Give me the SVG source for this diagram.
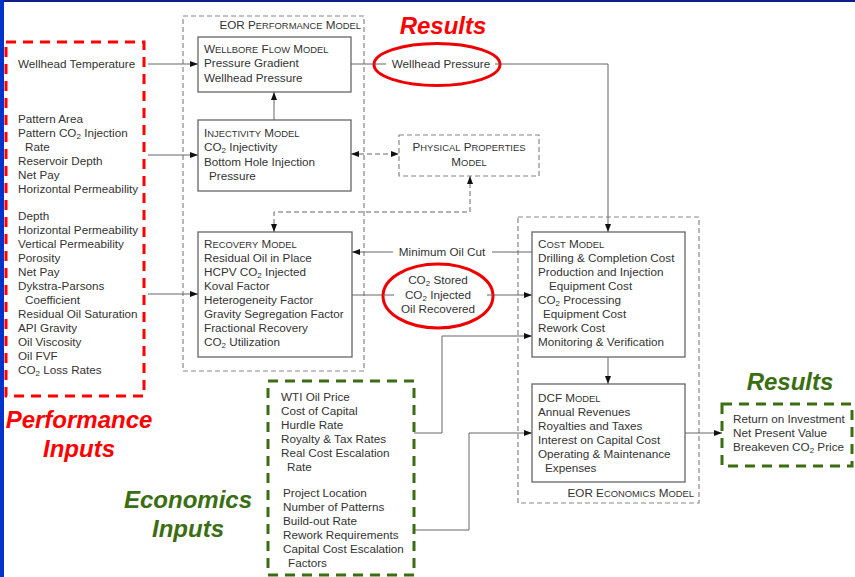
<svg xmlns="http://www.w3.org/2000/svg" width="855" height="577" viewBox="0 0 855 577">
<style>
.t{font-family:"Liberation Sans",Arial,sans-serif;font-size:11.7px;fill:#333}
.k{font-size:9.4px}
.s{font-size:8px}
.box{fill:#fff;stroke:#666;stroke-width:1.3}
.dbox{fill:none;stroke:#888;stroke-width:1.2;stroke-dasharray:5 3}
.pbox{fill:#fff;stroke:#888;stroke-width:1.2;stroke-dasharray:5 3}
.c{fill:none;stroke:#666;stroke-width:1}
.dc{fill:none;stroke:#666;stroke-width:1;stroke-dasharray:5 3}
.red{fill:none;stroke:#f00;stroke-width:3;stroke-dasharray:10 7}
.grn{fill:none;stroke:#3b6e12;stroke-width:3;stroke-dasharray:10 7}
.ell{fill:#fff;stroke:#e00;stroke-width:3}
.big{font-family:"Liberation Sans",Arial,sans-serif;font-weight:bold;font-style:italic;font-size:24px;text-anchor:middle}
</style>
<defs>
<marker id="ar" markerUnits="userSpaceOnUse" markerWidth="8" markerHeight="6" refX="8" refY="3" orient="auto-start-reverse"><path d="M0,0 L8,3 L0,6 z" fill="#111"/></marker>
</defs>
<rect x="0" y="0" width="855" height="577" fill="#fff"/>
<rect x="0" y="0" width="855" height="2" fill="#0c1f8a"/>
<rect x="0" y="0" width="4" height="577" fill="#0033cc"/>

<g id="eor-performance-model">
<rect class="dbox" x="183" y="16" width="181" height="355"/>
<text class="t" x="361" y="29" text-anchor="end">EOR P<tspan class="k">ERFORMANCE</tspan> M<tspan class="k">ODEL</tspan></text>
</g>
<g id="eor-economics-model">
<rect class="dbox" x="518" y="217" width="181" height="286"/>
<text class="t" x="694" y="497" text-anchor="end">EOR E<tspan class="k">CONOMICS</tspan> M<tspan class="k">ODEL</tspan></text>
</g>

<g id="connectors">
<line class="c" x1="148" y1="64" x2="198" y2="64" marker-end="url(#ar)"/>
<line class="c" x1="148" y1="155" x2="198" y2="155" marker-end="url(#ar)"/>
<line class="c" x1="148" y1="294" x2="198" y2="294" marker-end="url(#ar)"/>
<line class="c" x1="274" y1="120" x2="274" y2="92" marker-end="url(#ar)"/>
<line class="c" x1="351" y1="64" x2="386" y2="64"/>
<polyline class="c" points="495,64 608,64 608,232" marker-end="url(#ar)"/>
<line class="dc" x1="351" y1="154" x2="399" y2="154" marker-start="url(#ar)" marker-end="url(#ar)"/>
<polyline class="dc" points="274,232 274,212 470,212 470,176" marker-start="url(#ar)" marker-end="url(#ar)"/>
<line class="c" x1="532" y1="252" x2="492" y2="252"/>
<line class="c" x1="393" y1="252" x2="352" y2="252" marker-end="url(#ar)"/>
<line class="c" x1="352" y1="295" x2="394" y2="295"/>
<line class="c" x1="487" y1="295" x2="532" y2="295" marker-end="url(#ar)"/>
<line class="c" x1="608" y1="357" x2="608" y2="384" marker-end="url(#ar)"/>
<line class="c" x1="685" y1="433" x2="722" y2="433" marker-end="url(#ar)"/>
<polyline class="c" points="414,433 442,433 442,336 532,336" marker-end="url(#ar)"/>
<polyline class="c" points="414,530 469,530 469,433 532,433" marker-end="url(#ar)"/>
</g>

<g id="performance-inputs">
<rect class="red" x="6" y="42" width="138" height="354"/>
<text class="t" x="18" y="68">Wellhead Temperature</text>
<text class="t" x="18" y="123">Pattern Area</text>
<text class="t" x="18" y="137">Pattern CO<tspan class="s" dy="2">2</tspan><tspan dy="-2"> Injection</tspan></text>
<text class="t" x="25" y="151">Rate</text>
<text class="t" x="18" y="165">Reservoir Depth</text>
<text class="t" x="18" y="179">Net Pay</text>
<text class="t" x="18" y="193">Horizontal Permeability</text>
<text class="t" x="18" y="220">Depth</text>
<text class="t" x="18" y="234">Horizontal Permeability</text>
<text class="t" x="18" y="248">Vertical Permeability</text>
<text class="t" x="18" y="262">Porosity</text>
<text class="t" x="18" y="276">Net Pay</text>
<text class="t" x="18" y="290">Dykstra-Parsons</text>
<text class="t" x="25" y="304">Coefficient</text>
<text class="t" x="18" y="318">Residual Oil Saturation</text>
<text class="t" x="18" y="332">API Gravity</text>
<text class="t" x="18" y="346">Oil Viscosity</text>
<text class="t" x="18" y="360">Oil FVF</text>
<text class="t" x="18" y="374">CO<tspan class="s" dy="2">2</tspan><tspan dy="-2"> Loss Rates</tspan></text>
<text class="big" x="79" y="428" fill="#f00">Performance</text>
<text class="big" x="79" y="457" fill="#f00">Inputs</text>
</g>

<g id="wellbore-flow-model">
<rect class="box" x="198" y="37" width="153" height="55"/>
<text class="t" x="204" y="53">W<tspan class="k">ELLBORE</tspan> F<tspan class="k">LOW</tspan> M<tspan class="k">ODEL</tspan></text>
<text class="t" x="204" y="67">Pressure Gradient</text>
<text class="t" x="204" y="82">Wellhead Pressure</text>
</g>

<g id="injectivity-model">
<rect class="box" x="198" y="120" width="153" height="71"/>
<text class="t" x="204" y="137">I<tspan class="k">NJECTIVITY</tspan> M<tspan class="k">ODEL</tspan></text>
<text class="t" x="204" y="151">CO<tspan class="s" dy="2">2</tspan><tspan dy="-2"> Injectivity</tspan></text>
<text class="t" x="204" y="166">Bottom Hole Injection</text>
<text class="t" x="209" y="180">Pressure</text>
</g>

<g id="recovery-model">
<rect class="box" x="198" y="232" width="154" height="125"/>
<text class="t" x="204" y="248">R<tspan class="k">ECOVERY</tspan> M<tspan class="k">ODEL</tspan></text>
<text class="t" x="204" y="262">Residual Oil in Place</text>
<text class="t" x="204" y="276">HCPV CO<tspan class="s" dy="2">2</tspan><tspan dy="-2"> Injected</tspan></text>
<text class="t" x="204" y="290">Koval Factor</text>
<text class="t" x="204" y="304">Heterogeneity Factor</text>
<text class="t" x="204" y="318">Gravity Segregation Factor</text>
<text class="t" x="204" y="332">Fractional Recovery</text>
<text class="t" x="204" y="346">CO<tspan class="s" dy="2">2</tspan><tspan dy="-2"> Utilization</tspan></text>
</g>

<g id="physical-properties-model">
<rect class="pbox" x="399" y="135" width="140" height="41"/>
<text class="t" x="469" y="151" text-anchor="middle">P<tspan class="k">HYSICAL</tspan> P<tspan class="k">ROPERTIES</tspan></text>
<text class="t" x="469" y="166" text-anchor="middle">M<tspan class="k">ODEL</tspan></text>
</g>

<g id="results-wellhead-pressure">
<text class="big" x="443" y="34" fill="#f00">Results</text>
<ellipse class="ell" cx="437" cy="64.5" rx="63" ry="21"/>
<line class="c" x1="374" y1="64" x2="386" y2="64"/>
<line class="c" x1="495" y1="64" x2="500" y2="64"/>
<text class="t" x="441" y="68" text-anchor="middle">Wellhead Pressure</text>
</g>

<g id="minimum-oil-cut">
<text class="t" x="442" y="256" text-anchor="middle">Minimum Oil Cut</text>
</g>

<g id="results-co2">
<ellipse class="ell" cx="438" cy="296" rx="55" ry="32"/>
<line class="c" x1="383" y1="295" x2="394" y2="295"/>
<line class="c" x1="487" y1="295" x2="493" y2="295"/>
<text class="t" x="438" y="284" text-anchor="middle">CO<tspan class="s" dy="2">2</tspan><tspan dy="-2"> Stored</tspan></text>
<text class="t" x="438" y="299" text-anchor="middle">CO<tspan class="s" dy="2">2</tspan><tspan dy="-2"> Injected</tspan></text>
<text class="t" x="438" y="313" text-anchor="middle">Oil Recovered</text>
</g>

<g id="cost-model">
<rect class="box" x="532" y="232" width="153" height="125"/>
<text class="t" x="538" y="248">C<tspan class="k">OST</tspan> M<tspan class="k">ODEL</tspan></text>
<text class="t" x="538" y="262">Drilling &amp; Completion Cost</text>
<text class="t" x="538" y="276">Production and Injection</text>
<text class="t" x="549" y="290">Equipment Cost</text>
<text class="t" x="538" y="304">CO<tspan class="s" dy="2">2</tspan><tspan dy="-2"> Processing</tspan></text>
<text class="t" x="543" y="318">Equipment Cost</text>
<text class="t" x="538" y="332">Rework Cost</text>
<text class="t" x="538" y="346">Monitoring &amp; Verification</text>
</g>

<g id="dcf-model">
<rect class="box" x="532" y="384" width="153" height="98"/>
<text class="t" x="538" y="402">DCF M<tspan class="k">ODEL</tspan></text>
<text class="t" x="538" y="416">Annual Revenues</text>
<text class="t" x="538" y="430">Royalties and Taxes</text>
<text class="t" x="538" y="444">Interest on Capital Cost</text>
<text class="t" x="538" y="458">Operating &amp; Maintenance</text>
<text class="t" x="545" y="472">Expenses</text>
</g>

<g id="economics-results">
<text class="big" x="790" y="390" fill="#3b6e12">Results</text>
<rect class="grn" x="722" y="404" width="130" height="62"/>
<text class="t" x="733" y="423">Return on Investment</text>
<text class="t" x="733" y="437">Net Present Value</text>
<text class="t" x="733" y="451">Breakeven CO<tspan class="s" dy="2">2</tspan><tspan dy="-2"> Price</tspan></text>
</g>

<g id="economics-inputs">
<rect class="grn" x="268" y="381" width="146" height="194"/>
<text class="t" x="281" y="401">WTI Oil Price</text>
<text class="t" x="281" y="415">Cost of Capital</text>
<text class="t" x="281" y="429">Hurdle Rate</text>
<text class="t" x="281" y="443">Royalty &amp; Tax Rates</text>
<text class="t" x="281" y="457">Real Cost Escalation</text>
<text class="t" x="287" y="471">Rate</text>
<text class="t" x="283" y="497">Project Location</text>
<text class="t" x="283" y="511">Number of Patterns</text>
<text class="t" x="283" y="525">Build-out Rate</text>
<text class="t" x="283" y="539">Rework Requirements</text>
<text class="t" x="283" y="553">Capital Cost Escalation</text>
<text class="t" x="288" y="567">Factors</text>
<text class="big" x="188" y="508" fill="#3b6e12">Economics</text>
<text class="big" x="188" y="537" fill="#3b6e12">Inputs</text>
</g>
</svg>
